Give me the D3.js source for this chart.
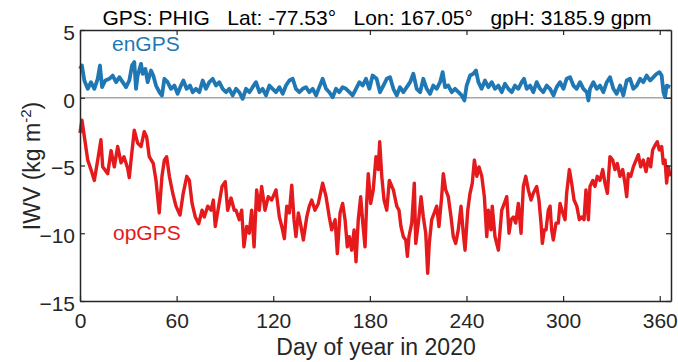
<!DOCTYPE html>
<html><head><meta charset="utf-8">
<script src="https://cdn.jsdelivr.net/npm/d3@7"></script>
<style>body{margin:0;background:#fff}</style></head><body>
<svg id="c" width="678" height="362"></svg>
<script>
const titleText = "GPS: PHIG\u00A0\u00A0\u00A0Lat: -77.53\u00B0\u00A0\u00A0\u00A0Lon: 167.05\u00B0\u00A0\u00A0\u00A0gpH: 3185.9 gpm";
const xTicks = [0,60,120,180,240,300,360];
const yTicks = [5,0,-5,-10,-15];
const seriesNames = ["enGPS","opGPS"];

const enDays = [0,1.2,2.7,4.8,6.8,8.9,11,12.4,13.7,15.7,18.2,20.3,22.4,24.4,26.5,28.6,30.6,32.3,33.7,34.8,35.8,37.9,38.9,40.6,42.0,44.1,45.5,47.2,49.3,50.9,52.4,54.4,56.5,58.6,60.6,62.7,64.2,66.2,68.3,70,72,74.1,76.2,78.2,80.3,82.4,84.5,86.5,88.6,90.7,92.7,94.8,96.9,98.9,101,103.1,105.2,107.2,109.3,111.4,113.4,115.5,117.6,119.6,121.7,123.8,125.9,127.9,130,132.1,134.1,136.2,138.3,140.3,142.4,144.5,146.6,148.6,150.7,152.8,154.8,156.9,159,161,163.1,165.2,167.3,169.3,171.4,173.5,175.5,177.6,179.7,181.7,
184.2,186.3,188.4,190.5,192.5,194.6,196.7,198.7,200.8,202.9,205,207,209.1,211.2,213.2,215.3,217.4,219.4,221.5,223.6,225.2,226.7,228.7,230.8,232.9,235,237,238.7,240.1,242.2,244.3,245.9,247.4,249.4,251.5,253.6,255.7,257.7,259.8,261.9,263.9,266,268.1,270.1,272.2,274.3,275.7,277.4,279.5,281.5,283.6,285.7,287.7,289.8,291.9,294,296,298.1,300.2,302.2,304.3,306.4,308.4,310.5,312.6,314.7,315.7,316.7,318.8,320.9,322.9,325,327.1,329.1,331.2,333.3,335.4,337.4,339.5,341.6,343.6,345.7,347.8,349.8,351.9,354,356.1,358.1,359.8,361.2,362.3,363.3,364.3,366.4];
const enValues = [2.13,2.38,1.27,0.66,1.15,0.66,1.40,2.38,0.78,1.27,1.40,1.64,1.15,1.52,1.15,0.78,1.27,2.38,2.63,0.66,1.64,2.5,1.77,2.13,1.15,2.01,1.64,0.90,0.41,0.17,1.40,1.15,0.66,0.90,0.29,0.90,1.27,0.66,0.90,0.41,0.66,0.41,1.27,0.66,1.15,1.40,0.90,1.15,0.66,0.41,0.66,0.17,0.66,0.41,-0.08,0.66,0.41,0.78,1.15,0.41,0.66,0.17,0.90,0.66,0.41,0.78,0.29,0.90,1.27,1.40,0.66,0.41,0.66,0.78,0.41,0.66,0.17,0.78,1.40,0.66,0.41,0.04,0.66,0.41,0.78,0.66,0.41,0.17,0.66,1.15,0.90,1.40,0.66,1.64,
1.40,0.41,0.90,1.40,1.52,0.66,0.17,0.78,0.41,0.78,1.15,1.77,0.66,0.41,1.40,0.66,0.29,0.90,0.66,1.15,1.89,0.78,0.90,0.41,0.66,0.41,0.17,-0.2,0.90,1.64,1.77,2.01,1.15,0.66,1.27,0.78,1.15,0.66,0.90,0.41,1.03,0.66,0.41,0.90,0.66,1.15,1.40,0.66,0.90,0.41,1.15,0.66,0.41,0.90,0.66,0.17,0.78,1.15,0.66,1.40,1.52,0.90,0.66,1.15,0.66,0.41,-0.2,0.66,1.15,0.66,0.90,0.41,1.15,1.52,0.66,0.29,0.90,0.17,1.27,1.40,0.66,0.90,1.40,1.15,1.64,1.27,1.52,1.77,1.89,1.64,0.41,0.04,0.90,0.78];

const opDays = [0,1.2,4.8,6.8,8.9,11.0,13.0,14.1,17.2,19.3,21.3,23.4,25.5,27.3,29.6,30.6,31.7,33.7,35.8,37.9,39.9,41.4,43.0,45.5,47.2,49.2,50.9,52.4,53.8,55.5,57.6,59.6,62.1,64.1,66.3,67.9,69.6,71.6,73.7,75.8,77.2,79.3,81.4,82.8,84.0,86.1,88.2,90.2,91.7,93.8,95.8,
96.9,98.9,100.4,101.8,103.5,105.1,106.6,108.1,109.7,111.3,112.8,114.9,116.9,119.0,121.7,123.8,125.3,126.9,128.4,130.0,131.5,132.9,134.1,135.6,137.1,138.7,140.8,142.4,143.9,145.9,148.0,150.7,152.8,154.8,156.3,158.4,159.8,161.5,163.1,164.6,166.0,167.2,168.7,170.2,171.4,172.8,174.3,175.6,177.0,178.0,179.0,180.5,182.1,183.8,185.2,186.1,187.4,188.8,190.5,192.1,
194.6,196.7,198.1,199.3,200.8,202.3,203.3,204.3,206.0,207.6,208.5,210.1,211.8,213.2,214.7,215.9,216.9,218.4,220.0,221.5,222.9,224.6,225.6,227.1,228.7,230.4,231.8,233.3,234.9,236.6,238.0,239.1,240.8,242.2,243.6,244.9,246.4,247.8,249.5,251.1,252.6,253.6,255.2,256.0,257.7,259.8,261.9,263.5,265.0,266.4,267.7,269.1,270.6,272.2,273.9,275.3,276.8,278.4,280.1,281.5,283.6,285.0,286.3,287.1,288.3,
289.4,290.8,291.9,292.9,293.9,295.6,297.0,298.1,299.8,301.2,302.2,303.9,305.3,306.8,308.5,310.1,311.6,313.0,314.2,315.7,316.7,318.4,319.8,321.2,322.9,324.6,326.0,327.5,329.1,330.8,332.2,333.7,335.3,337.0,338.4,339.5,340.5,342.0,343.6,345.3,346.7,348.2,349.8,351.5,352.9,354.4,355.6,357.1,358.5,359.7,361.2,362.2,363.3,364.3,365.3,366.4];
const opValues = [-2.6,-1.65,-4.6,-5.3,-6.1,-4.6,-3.1,-5.1,-5.6,-3.9,-5.1,-3.6,-4.8,-4.35,-5.2,-5.9,-4.6,-2.4,-3.35,-3.6,-2.5,-2.9,-4.35,-4.85,-6.1,-8.5,-5.8,-4.6,-4.35,-5.8,-7.05,-8.0,-8.65,-7.05,-5.8,-6.1,-7.8,-8.8,-9.3,-8.3,-8.8,-8.0,-8.3,-7.55,-9.5,-8.0,-6.55,-6.2,-8.3,-7.4,-8.3,
-8.3,-9.0,-8.3,-11.0,-9.5,-10.0,-8.3,-11.0,-6.8,-8.3,-6.55,-8.3,-7.3,-7.55,-6.8,-8.8,-9.5,-10.4,-8.0,-8.5,-6.45,-9.0,-10.25,-8.5,-9.4,-10.5,-8.8,-8.0,-7.55,-8.3,-7.8,-6.3,-7.3,-8.8,-9.75,-9.0,-11.5,-8.5,-7.8,-9.0,-11.0,-10.25,-11.25,-9.75,-12.1,-9.0,-7.3,-9.25,-11.0,-7.8,-5.6,-7.8,-6.8,-4.35,-5.3,-3.25,-5.8,-7.55,-8.3,-6.1,
-6.8,-8.0,-8.3,-9.5,-10.25,-10.5,-11.7,-10.25,-9.25,-6.3,-10.75,-9.25,-7.3,-8.8,-10.0,-12.95,-10.75,-9.0,-8.5,-8.0,-9.5,-7.3,-5.6,-6.8,-7.3,-8.8,-10.25,-10.75,-9.75,-8.0,-10.0,-11.25,-8.3,-7.05,-6.3,-4.6,-5.8,-5.1,-5.8,-7.3,-10.25,-8.3,-9.75,-8.0,-10.25,-11.25,-8.3,-7.8,-7.3,-10.0,-9.0,-8.8,-9.25,-7.8,-10.0,-6.55,-5.8,-6.8,-7.55,-7.05,-6.55,-7.55,-9.25,-10.75,-9.75,
-9.75,-8.3,-8.0,-9.75,-10.5,-9.25,-9.25,-7.8,-8.5,-9.0,-7.05,-5.3,-6.3,-7.55,-8.0,-9.0,-8.8,-9.0,-6.8,-9.0,-6.55,-6.1,-6.55,-5.8,-6.1,-5.3,-6.3,-7.05,-4.35,-4.6,-5.3,-4.85,-5.8,-5.3,-6.3,-7.3,-5.6,-5.8,-5.1,-4.6,-4.2,-5.1,-4.6,-5.45,-4.5,-5.1,-3.85,-3.5,-3.25,-3.85,-3.6,-4.85,-4.6,-6.3,-5.1,-5.8];

const FONT = "'Liberation Sans', Arial, Helvetica, sans-serif";
const AX = "#262626";
const svg = d3.select("#c");
const x = d3.scaleLinear().domain([0,367]).range([80,671]);
const y = d3.scaleLinear().domain([-15,5]).range([301,30]);

// zero line
svg.append("line").attr("x1",x(0)).attr("x2",x(367)).attr("y1",y(0)).attr("y2",y(0))
  .attr("stroke","#a6a6a6").attr("stroke-width",1.5);

const line = d3.line().x(d=>x(d[0])).y(d=>y(d[1]));
const enData = enDays.map((d,i)=>[d,enValues[i]]);
const opData = opDays.map((d,i)=>[d,opValues[i]]);
svg.append("path").datum(enData).attr("d",line).attr("fill","none")
  .attr("stroke","#1f77b4").attr("stroke-width",3.8).attr("stroke-linejoin","round");
svg.append("path").datum(opData).attr("d",line).attr("fill","none")
  .attr("stroke","#e41a1c").attr("stroke-width",3.4).attr("stroke-linejoin","round");

function styleAxis(g){
  g.select(".domain").attr("stroke",AX).attr("stroke-width",1.5);
  g.selectAll(".tick line").attr("stroke",AX).attr("stroke-width",1.2);
  g.selectAll("text").attr("fill",AX).style("font-family",FONT).style("font-size","21px");
}
svg.append("g").attr("transform",`translate(0,${y(-15)})`)
  .call(d3.axisBottom(x).tickValues(xTicks).tickSizeInner(-5).tickSizeOuter(0).tickPadding(12))
  .call(styleAxis);
svg.append("g").attr("transform",`translate(${x(0)},0)`)
  .call(d3.axisLeft(y).tickValues(yTicks).tickSizeInner(-5).tickSizeOuter(0).tickPadding(5))
  .call(styleAxis).call(g=>g.selectAll("text").attr("dy","0.45em"));
svg.append("g").attr("transform",`translate(0,${y(5)})`)
  .call(d3.axisTop(x).tickValues(xTicks).tickSizeInner(-5).tickSizeOuter(0).tickFormat(""))
  .call(styleAxis);
svg.append("g").attr("transform",`translate(${x(367)},0)`)
  .call(d3.axisRight(y).tickValues(yTicks).tickSizeInner(-5).tickSizeOuter(0).tickFormat(""))
  .call(styleAxis);

// title
svg.append("text").attr("x",377).attr("y",25).attr("text-anchor","middle")
  .style("font-family",FONT).style("font-size","21px").attr("fill","#000").text(titleText);
// x label
svg.append("text").attr("x",376).attr("y",355).attr("text-anchor","middle")
  .style("font-family",FONT).style("font-size","23px").attr("fill",AX).text("Day of year in 2020");
// y label
const yl = svg.append("text").attr("transform","translate(40,166) rotate(-90)").attr("text-anchor","middle")
  .style("font-family",FONT).style("font-size","23px").attr("fill",AX);
yl.append("tspan").text("IWV (kg m");
yl.append("tspan").attr("dy",-9).style("font-size","15px").text("-2");
yl.append("tspan").attr("dy",9).text(")");
// series labels
svg.append("text").attr("x",112).attr("y",51).style("font-family",FONT).style("font-size","21px")
  .attr("fill","#1f77b4").text(seriesNames[0]);
svg.append("text").attr("x",113).attr("y",240).style("font-family",FONT).style("font-size","21px")
  .attr("fill","#e41a1c").text(seriesNames[1]);
</script>
</body></html>
